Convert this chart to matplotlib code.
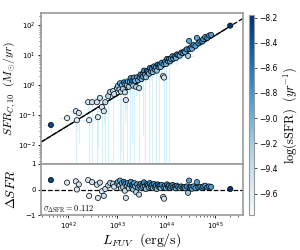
import numpy as np
import matplotlib
matplotlib.use('Agg')
import matplotlib.pyplot as plt
from matplotlib import colors

plt.rcParams['mathtext.fontset'] = 'cm'
plt.rcParams['font.size'] = 5.5

# log L_FUV (erg/s), log SFR (Msun/yr), log sSFR (1/yr), lower-error fraction of SFR
log_lfuv = [41.65, 41.98, 42.16, 42.22, 42.18, 42.43, 42.41, 42.49, 42.59, 42.65,
            42.61, 42.69, 42.73, 42.76, 42.82, 42.86, 42.92, 42.94, 43.00,
            43.02, 43.05, 43.06, 43.08, 43.10, 43.12, 43.14, 43.16, 43.17, 43.18,
            43.20, 43.22, 43.24, 43.26, 43.28, 43.30, 43.31, 43.33, 43.35, 43.37,
            43.39, 43.41, 43.43, 43.45, 43.46, 43.48, 43.50, 43.52, 43.53, 43.55,
            43.57, 43.59, 43.61, 43.63, 43.65, 43.67, 43.69, 43.71, 43.73, 43.75,
            43.77, 43.79, 43.81, 43.83, 43.85, 43.87, 43.89, 43.91, 43.94, 43.96,
            43.95, 43.98, 44.00, 44.02, 44.04, 44.06, 44.08, 44.10, 44.13, 44.15,
            44.18, 44.20, 44.22, 44.25, 44.28, 44.31, 44.34, 44.37, 44.39, 44.42,
            44.45, 44.47, 44.48, 44.51, 44.53, 44.56, 44.60, 44.63, 44.66, 44.70,
            44.74, 44.76, 44.80, 44.84, 44.88, 44.92, 45.31]
log_sfr = [-1.33, -1.10, -0.87, -0.93, -1.17, -1.17, -0.57, -0.57, -0.57, -0.43,
           -1.07, -0.73, -0.87, -0.57, -0.37, -0.23, -0.20, -0.30, -0.10,
           -0.03, -0.15, 0.06, -0.22, 0.00, -0.13, 0.09, -0.24, 0.02, -0.50,
           0.00, 0.12, -0.06, 0.11, 0.23, 0.05, 0.14, -0.02, 0.25, 0.14,
           -0.06, 0.26, 0.16, -0.10, 0.26, 0.35, 0.20, 0.35, 0.28, 0.48,
           0.34, 0.26, 0.46, 0.43, 0.38, 0.57, 0.46, 0.54, 0.43, 0.62,
           0.52, 0.59, 0.48, 0.68, 0.60, 0.66, 0.60, 0.74, 0.30, 0.25,
           0.70, 0.78, 0.70, 0.87, 0.79, 0.86, 0.79, 0.87, 0.96, 0.88,
           0.95, 0.90, 1.02, 1.00, 0.98, 1.08, 1.07, 1.12, 1.09, 1.19,
           0.97, 1.47, 1.21, 1.26, 1.21, 1.33, 1.30, 1.57, 1.39, 1.45,
           1.45, 1.53, 1.60, 1.57, 1.65, 1.67, 1.98]
log_ssfr = [-8.30, -9.55, -9.50, -9.45, -9.55, -9.60, -9.50, -9.40, -9.45, -9.35,
            -9.55, -9.50, -9.45, -9.40, -9.30, -9.25, -9.30, -9.40, -9.20,
            -9.10, -9.25, -8.95, -9.30, -9.05, -9.20, -8.60, -9.35, -9.00, -9.45,
            -9.10, -8.90, -9.20, -8.95, -8.80, -9.05, -8.50, -9.15, -8.85, -9.00,
            -9.25, -8.90, -8.95, -9.30, -8.85, -8.75, -9.00, -8.80, -8.90, -8.70,
            -8.90, -9.10, -8.75, -8.85, -9.00, -8.70, -8.90, -8.80, -9.05, -8.75,
            -8.90, -8.85, -9.10, -8.55, -8.95, -8.80, -9.05, -8.80, -9.40, -9.45,
            -8.90, -8.80, -9.00, -8.70, -8.90, -8.80, -8.95, -8.85, -8.75, -8.90,
            -8.80, -9.00, -8.75, -8.85, -9.00, -8.80, -8.90, -8.85, -8.95, -8.75,
            -9.20, -8.90, -8.85, -8.80, -8.95, -8.80, -8.85, -8.90, -8.80, -8.85,
            -8.75, -8.80, -8.85, -8.75, -8.80, -8.85, -8.20]
err_lo = [0.5, 0.6, 1.0, 0.9, 0.5, 1.0, 0.8, 0.99, 1.0, 0.7,
          0.9, 1.0, 0.6, 0.99, 1.0, 0.5, 1.0, 0.3, 0.6,
          0.3, 1.0, 0.4, 0.99, 0.3, 1.0, 0.4, 0.9, 0.3, 0.5,
          1.0, 0.3, 0.4, 1.0, 0.3, 0.99, 0.4, 0.3, 1.0, 0.3,
          0.5, 0.3, 0.4, 1.0, 0.3, 0.5, 0.3, 0.99, 0.3, 0.4,
          1.0, 0.3, 0.4, 0.3, 1.0, 0.3, 0.5, 1.0, 0.3, 0.4,
          0.3, 1.0, 0.3, 0.4, 1.0, 0.3, 0.5, 0.3, 0.4, 0.3,
          1.0, 0.3, 1.0, 0.4, 0.3, 1.0, 0.3, 0.3, 0.4, 0.3,
          0.3, 0.4, 0.3, 0.3, 0.3, 0.4, 0.3, 0.3, 0.3, 0.3,
          0.3, 0.3, 0.3, 0.3, 0.3, 0.3, 0.3, 0.3, 0.3, 0.3,
          0.3, 0.3, 0.3, 0.3, 0.3, 0.3, 0.3]
kenn_offset = 43.35
sigma_dsfr = 0.112
ssfr_min, ssfr_max = -9.77, -8.18

L = 10**np.array(log_lfuv)
sfr = 10**np.array(log_sfr)
dsfr = np.array(log_sfr) - (np.array(log_lfuv) - kenn_offset)
yerr = [sfr*np.array(err_lo), sfr*0.3]
xerr = L*0.3

xlim = (10**41.45, 10**45.57)
norm = colors.Normalize(ssfr_min, ssfr_max)
gray = '0.6'

fig = plt.figure(figsize=(3, 2.5), dpi=100)
ax = fig.add_axes([0.137, 0.344, 0.673, 0.604])
ax2 = fig.add_axes([0.137, 0.14, 0.673, 0.204], sharex=ax)
cax = fig.add_axes([0.83, 0.14, 0.017, 0.80])

ax.errorbar(L, sfr, xerr=xerr, yerr=yerr, fmt='none', ecolor='#d4f1fb', elinewidth=0.8, zorder=1)
sc = ax.scatter(L, sfr, c=log_ssfr, cmap='Blues', norm=norm, s=14, edgecolors='k', linewidths=0.5, zorder=3)
xx = np.array(xlim)
ax.plot(xx, xx*10**-kenn_offset, 'k--', lw=0.9, zorder=2)
xs = np.array([xlim[0], 10**45.3])
ax.plot(xs, xs*10**-kenn_offset, 'k-', lw=0.9, zorder=2)
ax.set_xscale('log')
ax.set_yscale('log')
ax.set_xlim(xlim)
ax.set_ylim(10**-2.63, 10**2.4)
ax.set_ylabel(r'$SFR_{C,10}\ \ (M_{\odot}/yr)$', fontsize=8.5)
ax.yaxis.set_label_coords(-0.115, 0.5)
ax.tick_params(axis='x', which='both', bottom=False, labelbottom=False)

ax2.scatter(L, dsfr, c=log_ssfr, cmap='Blues', norm=norm, s=14, edgecolors='k', linewidths=0.5, zorder=3)
ax2.axhline(0, color='k', ls='--', lw=0.9)
ax2.set_ylim(-1, 1)
ax2.set_yticks([-1, 0, 1])
ax2.set_ylabel(r'$\Delta SFR$', fontsize=9.5)
ax2.yaxis.set_label_coords(-0.115, 0.5)
ax2.set_xlabel(r'$L_{FUV}\ \ \mathrm{(erg/s)}$', fontsize=10)
ax2.xaxis.set_label_coords(0.5, -0.31)
ax2.text(0.01, 0.06, r'$\sigma_{\Delta \rm SFR} = 0.112$', transform=ax2.transAxes, fontsize=6)

for a in (ax, ax2):
    for sp in a.spines.values():
        sp.set_color(gray)
        sp.set_linewidth(1.2)
    a.tick_params(which='major', length=2.5, width=0.6, labelsize=5, pad=1.5)
    a.tick_params(which='minor', length=1.5, width=0.4)

cb = fig.colorbar(sc, cax=cax)
cb.set_ticks([-8.2, -8.4, -8.6, -8.8, -9.0, -9.2, -9.4, -9.6])
cb.outline.set_edgecolor(gray)
cb.ax.tick_params(labelsize=5.5, length=2, width=0.5, pad=1.5)
cb.set_label(r'$\mathrm{log(sSFR)}\ \ (yr^{-1})$', fontsize=9, labelpad=3)

fig.savefig('out.png', dpi=100)
